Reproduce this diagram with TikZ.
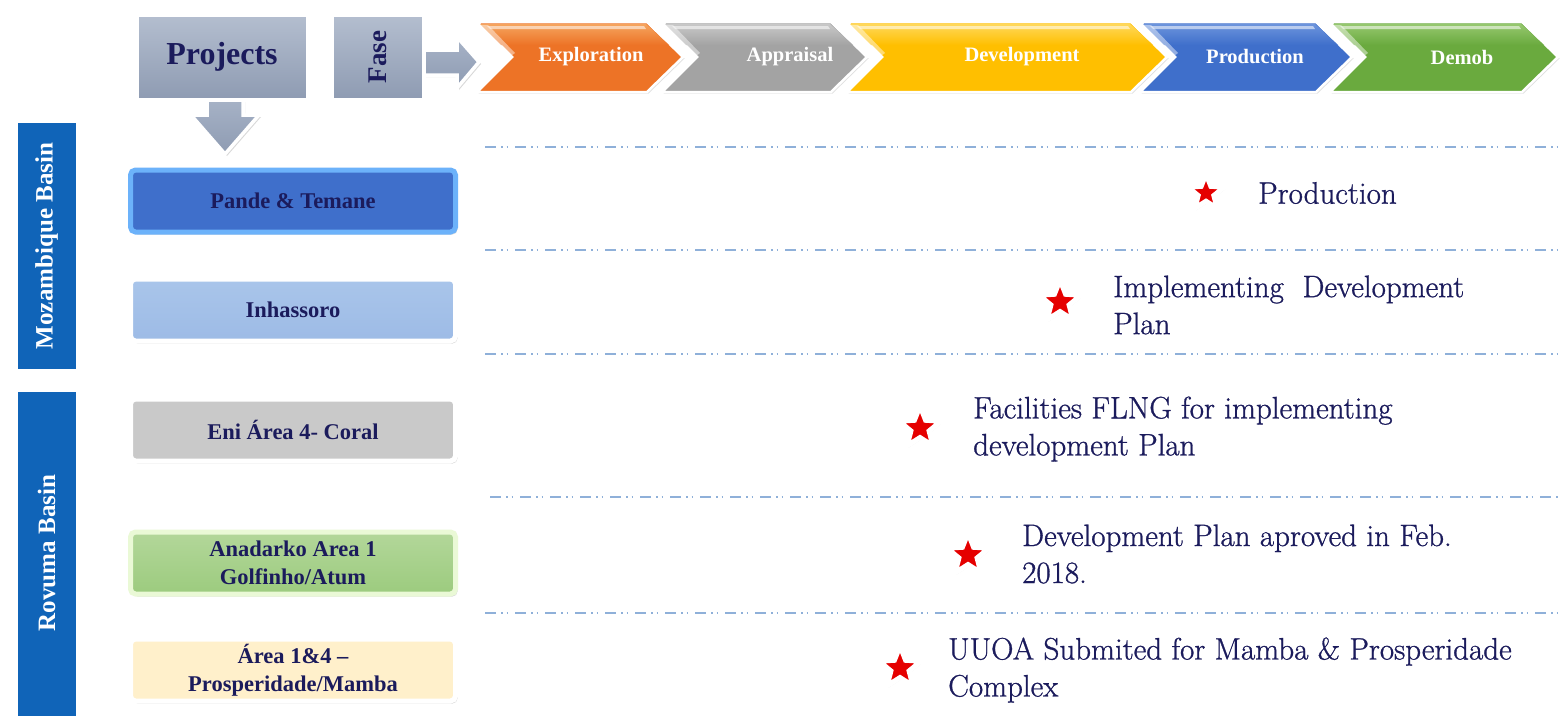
\documentclass[tikz,border=0pt]{standalone}
\usepackage{fontspec}
\newfontfamily\libserif{Liberation Serif}
\newfontfamily\descfont{Latin Modern Roman}[FakeBold=0.9]
\usetikzlibrary{shapes.geometric,shadows}
\definecolor{navy}{HTML}{1B1B5C}
\definecolor{boxgray}{HTML}{A7B3C7}
\definecolor{boxgraydk}{HTML}{8E9BB2}
\definecolor{basinblue}{HTML}{1064B8}
\definecolor{dashblue}{HTML}{8FB0D9}
\definecolor{chorange}{HTML}{ED7326}
\definecolor{chorangelt}{HTML}{F5A45E}
\definecolor{chgray}{HTML}{A3A3A3}
\definecolor{chgraylt}{HTML}{C8C8C8}
\definecolor{chyellow}{HTML}{FFBF00}
\definecolor{chyellowlt}{HTML}{FFD85A}
\definecolor{chblue}{HTML}{3F6FCB}
\definecolor{chbluelt}{HTML}{6C94DC}
\definecolor{chgreen}{HTML}{6AAA3E}
\definecolor{chgreenlt}{HTML}{95C76E}
\definecolor{pandeborder}{HTML}{6CB2FA}
\definecolor{inhtop}{HTML}{A9C5EA}
\definecolor{inhbot}{HTML}{9DBBE6}
\definecolor{enigray}{HTML}{C9C9C9}
\definecolor{anatop}{HTML}{B3D79A}
\definecolor{anabot}{HTML}{9CCB7E}
\definecolor{anaborder}{HTML}{EAF9D6}
\definecolor{areafill}{HTML}{FFF0CB}
\newcommand{\mychev}[4]{%
  \path[fill=#3, draw=white, line width=2.5pt, line join=miter, drop shadow={opacity=0.25,shadow xshift=1.5pt,shadow yshift=-1.5pt}]
    (#1,22) -- (#2,22) -- ({#2+36},57) -- (#2,92) -- (#1,92) -- ({#1+35},57) -- cycle;
  \path[top color=#4, bottom color=#3]
    ({#1+3},24) -- ({#2-1},24) -- ({#2+22},45) -- ({#1+24},45) -- cycle;
  \fill[white, opacity=0.55] ({#1+10},26) -- ({#2-3},26) -- ({#2-1},29) -- ({#1+13},29) -- cycle;
  \fill[white, opacity=0.45] ({#1+4},25) -- ({#1+11},25) -- ({#1+38},53) -- ({#1+34},56) -- cycle;
}
\tikzset{
  hdrbox/.style={draw=white, line width=4pt, top color=boxgray!85!white, bottom color=boxgraydk,
    drop shadow={opacity=0.3,shadow xshift=2pt,shadow yshift=-2pt}, text=navy},
  blockarrow/.style={draw=white, line width=3.5pt, line join=miter, top color=boxgray, bottom color=boxgraydk,
    drop shadow={opacity=0.3,shadow xshift=2pt,shadow yshift=-2pt}},
  chevtext/.style={text=white, font=\libserif\fontsize{20.5}{24}\selectfont\bfseries, inner sep=0pt},
  basin/.style={fill=basinblue, draw=white, line width=4pt, minimum width=62pt, text=white,
    font=\libserif\fontsize{25}{28}\selectfont\bfseries,
    drop shadow={opacity=0.3,shadow xshift=2pt,shadow yshift=-2pt}},
  projbox/.style={rounded corners=5pt, line width=5pt, minimum width=325pt, minimum height=62pt,
    text=navy, font=\libserif\fontsize{22.5}{28}\selectfont\bfseries, align=center,
    drop shadow={opacity=0.3,shadow xshift=2pt,shadow yshift=-2.5pt}},
  divider/.style={dashblue, line width=1.6pt, dash pattern=on 11pt off 5pt on 1.5pt off 4pt on 1.5pt off 7pt},
  starmark/.style={star, star points=5, star point ratio=2.3, fill=red!90!black, draw=white, line width=5pt,
    minimum size=44pt, inner sep=0pt, drop shadow={opacity=0.25,shadow xshift=1pt,shadow yshift=-2pt}},
  desc/.style={anchor=west, align=left, inner sep=0pt, text=navy, font=\descfont\fontsize{31}{37}\selectfont}
}
\begin{document}
\begin{tikzpicture}[x=1pt,y=-1pt]
\useasboundingbox[fill=white] (0,0) rectangle (1560,715);

% header boxes and block arrows
\path[blockarrow] (207,98) -- (243,98) -- (243,115) -- (259,115) -- (225,154) -- (191,115) -- (207,115) -- cycle;
\path[blockarrow] (423,50) -- (457,50) -- (457,37) -- (479,62) -- (457,88) -- (457,75) -- (423,75) -- cycle;
\node[hdrbox, minimum width=171pt, minimum height=85pt, font=\libserif\fontsize{32}{36}\selectfont\bfseries] (projects) at (222,57) {Projects};
\node[hdrbox, minimum width=92pt, minimum height=85pt, font=\libserif\fontsize{27}{30}\selectfont\bfseries] (fase) at (378,57) {\rotatebox{90}{Fase}};

% chevrons
\mychev{477}{647}{chorange}{chorangelt}
\mychev{662}{831}{chgray}{chgraylt}
\mychev{847}{1131}{chyellow}{chyellowlt}
\mychev{1140}{1316}{chblue}{chbluelt}
\mychev{1330}{1522}{chgreen}{chgreenlt}
\node[chevtext] (exploration) at (591,57) {Exploration};
\node[chevtext] (appraisal) at (790,57) {Appraisal};
\node[chevtext] (development) at (1022,57) {Development};
\node[chevtext] (production) at (1255,57) {Production};
\node[chevtext] (demob) at (1462,57) {Demob};

% basins
\node[basin, minimum height=250pt] (moz) at (46.5,246) {\rotatebox{90}{Mozambique Basin}};
\node[basin, minimum height=340pt] (rov) at (46.5,560) {};
\node[text=white, font=\libserif\fontsize{25}{28}\selectfont\bfseries] (rovlabel) at (46.5,553) {\rotatebox{90}{Rovuma Basin}};

% project boxes
\node[projbox, fill=chblue, draw=pandeborder] (pande) at (293,201) {Pande \& Temane};
\node[projbox, top color=inhtop, bottom color=inhbot, draw=white] (inhassoro) at (293,310) {Inhassoro};
\node[projbox, fill=enigray, draw=white] (eni) at (293,430) {Eni Área 4- Coral};
\node[projbox, top color=anatop, bottom color=anabot, draw=anaborder] (anadarko) at (293,563) {Anadarko Area 1\\Golfinho/Atum};
\node[projbox, fill=areafill, draw=white] (area14) at (293,670) {Área 1\&4 –\\Prosperidade/Mamba};

% dividers
\coordinate (d1a) at (485,147); \coordinate (d1b) at (1560,147);
\coordinate (d2a) at (485,250); \coordinate (d2b) at (1560,250);
\coordinate (d3a) at (485,354); \coordinate (d3b) at (1560,354);
\coordinate (d4a) at (490,497); \coordinate (d4b) at (1560,497);
\coordinate (d5a) at (485,613); \coordinate (d5b) at (1560,613);
\draw[divider] (d1a) -- (d1b);
\draw[divider] (d2a) -- (d2b);
\draw[divider] (d3a) -- (d3b);
\draw[divider] (d4a) -- (d4b);
\draw[divider] (d5a) -- (d5b);

% status
\node[starmark, minimum size=38pt] (st1) at (1206,193) {};
\node[desc] (t1) at (1258,193) {Production};
\node[starmark] (st2) at (1060,302) {};
\node[desc] (t2) at (1113,305) {Implementing\ \ Development\\Plan};
\node[starmark] (st3) at (920,428) {};
\node[desc] (t3) at (973,429) {Facilities FLNG for implementing\\development Plan};
\node[starmark] (st4) at (968,555) {};
\node[desc] (t4) at (1022,554) {Development Plan aproved in Feb.\\2018.};
\node[starmark] (st5) at (900,668) {};
\node[desc] (t5) at (948,670) {UUOA Submited for Mamba \& Prosperidade\\Complex};
\end{tikzpicture}
\end{document}
